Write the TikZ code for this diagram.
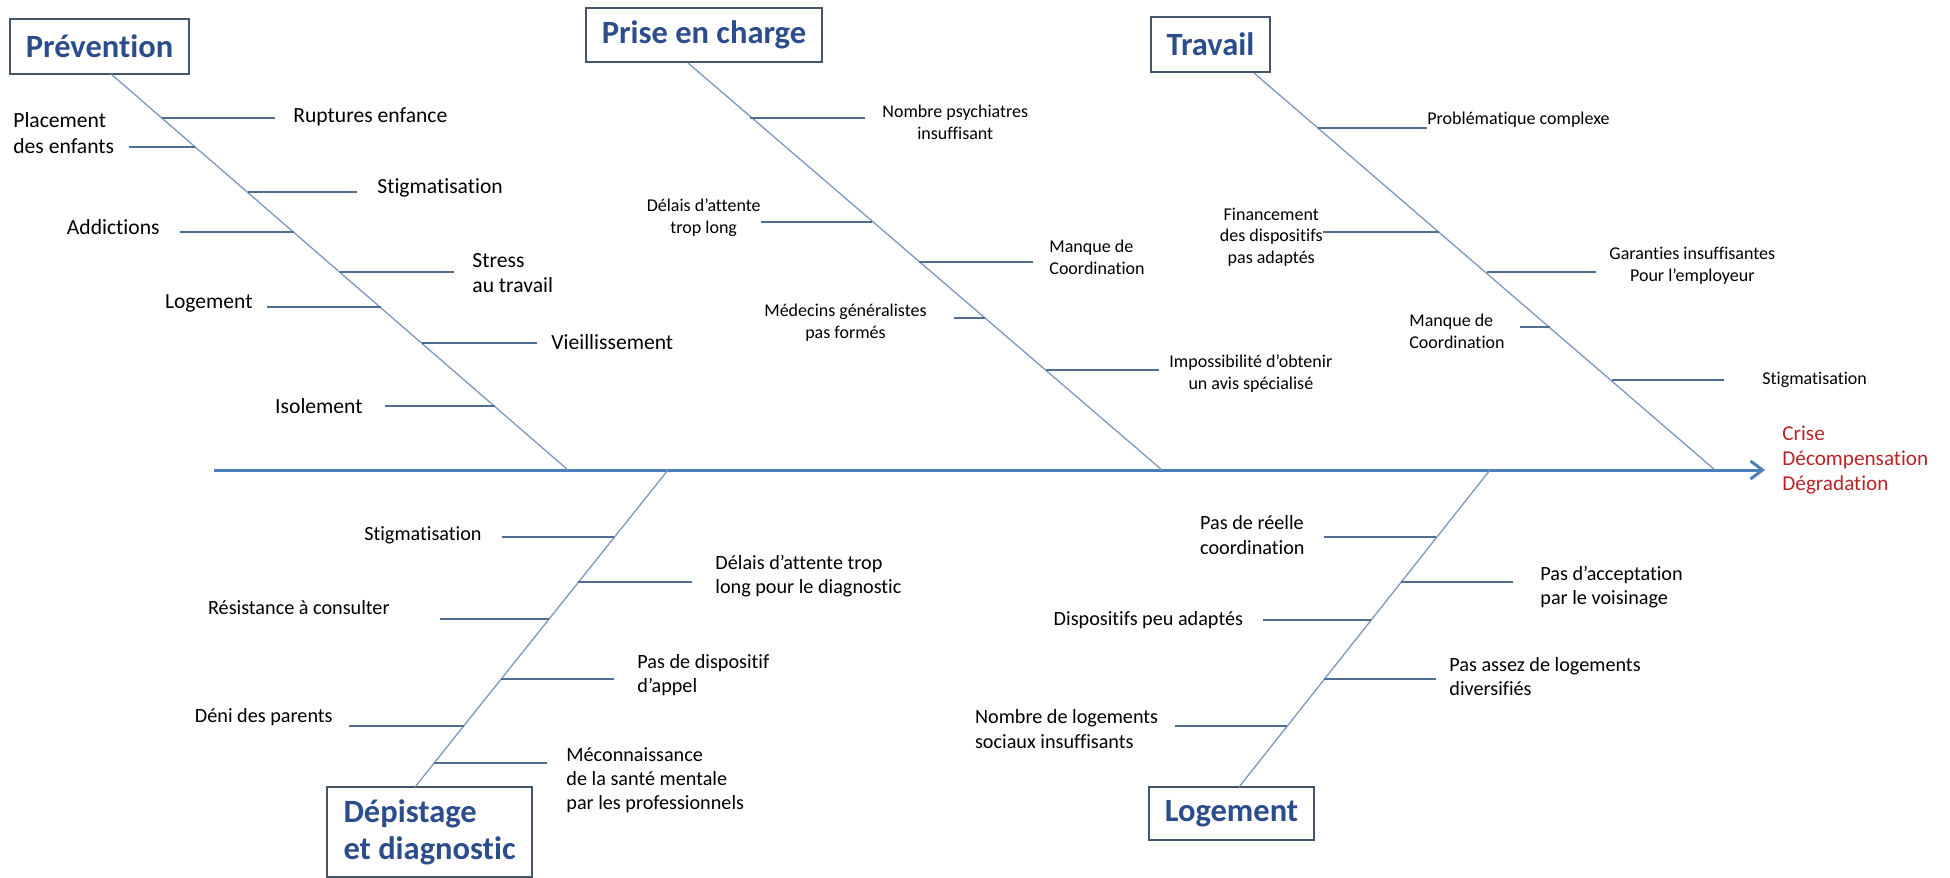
\documentclass[tikz,border=0pt]{standalone}
\usepackage{fontspec}
\setmainfont{Carlito}[Ligatures=NoCommon]
\usetikzlibrary{arrows.meta}
\definecolor{titleblue}{RGB}{44,77,140}
\definecolor{boxgrey}{RGB}{70,85,105}
\definecolor{spineblue}{RGB}{74,126,187}
\definecolor{boneblue}{RGB}{125,152,190}
\definecolor{ribblue}{RGB}{80,110,145}
\definecolor{effectred}{RGB}{185,35,40}

\begin{document}
\begin{tikzpicture}
[ x=0.5pt, y=-0.5pt
, point/.style={coordinate}
, category/.style={rectangle, draw=boxgrey, line width=0.65pt, inner sep=0pt, text=titleblue, font=\bfseries\fontsize{16.25}{18.5}\selectfont}
, cause/.style={inner xsep=9pt, inner ysep=0pt, font=\fontsize{10.8}{12.9}\selectfont}
, midcause/.style={cause, font=\fontsize{10.1}{12.1}\selectfont}
, smallcause/.style={cause, font=\fontsize{9}{10.85}\selectfont}
, effect/.style={cause, inner xsep=8.5pt, text=effectred, align=left, font=\fontsize{10.6}{12.5}\selectfont}
, spine/.style={draw=spineblue, line width=1.5pt, -{Straight Barb[length=6pt, width=9pt]}}
, bone/.style={draw=boneblue, line width=0.65pt}
, rib/.style={draw=ribblue, line width=0.75pt}
]
\useasboundingbox (0,0) rectangle (1950,878);
% Spine:
\node (tail) [point] at (214,470) {};
\node (effect) [effect, anchor=west] at (1765,460) {Crise\\Décompensation\\Dégradation};
\draw [spine] (tail) -- (tail -| effect.west);
% Prevention:
\node (prev) [category, minimum width=89.5pt, minimum height=27.5pt] at (99.5,46.5) {Prévention};
\node (prevtop) [point] at (111,74) {};
\node (prevend) [point] at (568,470) {};
\draw [bone] (prevtop) -- (prevend);
\node (pv1) [point] at (162,118) {};
\node (rupt) [cause, anchor=west] at (275,117) {Ruptures enfance};
\draw [rib] (pv1) -- (pv1 -| rupt.west);
\node (pv2) [point] at (195,147) {};
\node (plac) [cause, anchor=east, align=left, inner xsep=7pt] at (128.5,133) {Placement\\des enfants};
\draw [rib] (pv2) -- (pv2 -| plac.east);
\node (pv3) [point] at (247.5,192) {};
\node (stig) [cause, anchor=west, inner xsep=10pt] at (357,188) {Stigmatisation};
\draw [rib] (pv3) -- (pv3 -| stig.west);
\node (pv4) [point] at (293.8,232) {};
\node (addi) [cause, anchor=east, inner xsep=10pt] at (180,227) {Addictions};
\draw [rib] (pv4) -- (pv4 -| addi.east);
\node (pv5) [point] at (340,272) {};
\node (stre) [cause, anchor=west, align=left] at (454,273) {Stress\\au travail};
\draw [rib] (pv5) -- (pv5 -| stre.west);
\node (pv6) [point] at (380.5,307) {};
\node (loge) [cause, anchor=east, inner xsep=7pt] at (267,303) {Logement};
\draw [rib] (pv6) -- (pv6 -| loge.east);
\node (pv7) [point] at (422,343) {};
\node (vieil) [cause, anchor=west, inner xsep=7pt] at (537,342) {Vieillissement};
\draw [rib] (pv7) -- (pv7 -| vieil.west);
\node (pv8) [point] at (495,406) {};
\node (isol) [cause, anchor=east, inner xsep=11pt] at (385,406) {Isolement};
\draw [rib] (pv8) -- (pv8 -| isol.east);
% Prise en charge:
\node (soin) [category, minimum width=118pt, minimum height=27pt] at (704,35) {Prise en charge};
\node (sointop) [point] at (688,63) {};
\node (soinend) [point] at (1162,470) {};
\draw [bone] (sointop) -- (soinend);
\node (pc1) [point] at (750,118) {};
\node (psy) [smallcause, anchor=west, align=center, inner xsep=8.5pt] at (865,122.5) {Nombre psychiatres\\insuffisant};
\draw [rib] (pc1) -- (pc1 -| psy.west);
\node (pc2) [point] at (872,222) {};
\node (dela) [smallcause, anchor=east, align=center, inner xsep=0pt] at (761,217.5) {Délais d’attente\\trop long};
\draw [rib] (pc2) -- (pc2 -| dela.east);
\node (pc3) [point] at (919,262) {};
\node (coor) [smallcause, anchor=west, align=left, inner xsep=8pt] at (1033,257.5) {Manque de\\Coordination};
\draw [rib] (pc3) -- (pc3 -| coor.west);
\node (pc4) [point] at (985,318) {};
\node (medg) [smallcause, anchor=east, align=center, inner xsep=13.5pt] at (954,322.5) {Médecins généralistes\\pas formés};
\draw [rib] (pc4) -- (pc4 -| medg.east);
\node (pc5) [point] at (1046,370) {};
\node (avis) [smallcause, anchor=west, align=center, inner xsep=5pt] at (1159,373.5) {Impossibilité d’obtenir\\un avis spécialisé};
\draw [rib] (pc5) -- (pc5 -| avis.west);
% Travail:
\node (trav) [category, minimum width=59.5pt, minimum height=27.5pt] at (1210.5,44.5) {Travail};
\node (travtop) [point] at (1254,73) {};
\node (travend) [point] at (1715,470) {};
\draw [bone] (travtop) -- (travend);
\node (tr1) [point] at (1318,128) {};
\node (prob) [smallcause, anchor=west, inner xsep=0pt] at (1427,120) {Problématique complexe};
\draw [rib] (tr1) -- (tr1 -| prob.west);
\node (tr2) [point] at (1439,232) {};
\node (fina) [smallcause, anchor=east, align=center, inner xsep=0pt] at (1323,237) {Financement\\des dispositifs\\pas adaptés};
\draw [rib] (tr2) -- (tr2 -| fina.east);
\node (tr3) [point] at (1486.7,272) {};
\node (gara) [smallcause, anchor=west, align=center, inner xsep=6.5pt] at (1596,266) {Garanties insuffisantes\\Pour l’employeur};
\draw [rib] (tr3) -- (tr3 -| gara.west);
\node (tr4) [point] at (1550,327) {};
\node (mcoo) [smallcause, anchor=east, align=left, inner xsep=7.5pt] at (1520,331) {Manque de\\Coordination};
\draw [rib] (tr4) -- (tr4 -| mcoo.east);
\node (tr5) [point] at (1612,380) {};
\node (tstig) [smallcause, anchor=west, inner xsep=19pt] at (1724,380) {Stigmatisation};
\draw [rib] (tr5) -- (tr5 -| tstig.west);
% Depistage:
\node (depi) [category, align=left, minimum width=102.5pt, minimum height=45pt] at (429.5,832) {Dépistage\\et diagnostic};
\node (depitop) [point] at (668,470) {};
\node (depiend) [point] at (415,787) {};
\draw [bone] (depitop) -- (depiend);
\node (dp1) [point] at (614,537) {};
\node (dstig) [midcause, anchor=east, inner xsep=10pt] at (502,535) {Stigmatisation};
\draw [rib] (dp1) -- (dp1 -| dstig.east);
\node (dp2) [point] at (578,582) {};
\node (ddel) [midcause, anchor=west, align=left, inner xsep=11.5pt] at (692,576) {Délais d’attente trop\\long pour le diagnostic};
\draw [rib] (dp2) -- (dp2 -| ddel.west);
\node (dp3) [point] at (548.7,619) {};
\node (resi) [midcause, anchor=east, inner xsep=25pt] at (440,608) {Résistance à consulter};
\draw [rib] (dp3) -- (dp3 -| resi.east);
\node (dp4) [point] at (501,679) {};
\node (appe) [midcause, anchor=west, align=left, inner xsep=11.5pt] at (614,675) {Pas de dispositif\\d’appel};
\draw [rib] (dp4) -- (dp4 -| appe.west);
\node (dp5) [point] at (463.5,726) {};
\node (deni) [midcause, anchor=east, inner xsep=8pt] at (349,717) {Déni des parents};
\draw [rib] (dp5) -- (dp5 -| deni.east);
\node (dp6) [point] at (434,763) {};
\node (meco) [midcause, anchor=west, align=left, inner xsep=9.5pt] at (547,780) {Méconnaissance\\de la santé mentale\\par les professionnels};
\draw [rib] (dp6) -- (dp6 -| meco.west);
% Logement:
\node (loge2) [category, minimum width=82.5pt, minimum height=26.5pt] at (1231.5,813.5) {Logement};
\node (logetop) [point] at (1490,470) {};
\node (logeend) [point] at (1239,787) {};
\draw [bone] (logetop) -- (logeend);
\node (lg1) [point] at (1436,537) {};
\node (reel) [midcause, anchor=east, align=left, inner xsep=9.5pt] at (1324,535) {Pas de réelle\\coordination};
\draw [rib] (lg1) -- (lg1 -| reel.east);
\node (lg2) [point] at (1400.5,582) {};
\node (voisi) [midcause, anchor=west, align=left, inner xsep=13.5pt] at (1513,587) {Pas d’acceptation\\par le voisinage};
\draw [rib] (lg2) -- (lg2 -| voisi.west);
\node (lg3) [point] at (1370.6,620) {};
\node (disp) [midcause, anchor=east, inner xsep=9.5pt] at (1262.5,620) {Dispositifs peu adaptés};
\draw [rib] (lg3) -- (lg3 -| disp.east);
\node (lg4) [point] at (1324,679) {};
\node (dive) [midcause, anchor=west, align=left, inner xsep=6.5pt] at (1436,676.5) {Pas assez de logements\\diversifiés};
\draw [rib] (lg4) -- (lg4 -| dive.west);
\node (lg5) [point] at (1287,726) {};
\node (soci) [midcause, anchor=east, align=left, inner xsep=8pt] at (1174.5,729) {Nombre de logements\\sociaux insuffisants};
\draw [rib] (lg5) -- (lg5 -| soci.east);
\end{tikzpicture}
\end{document}
